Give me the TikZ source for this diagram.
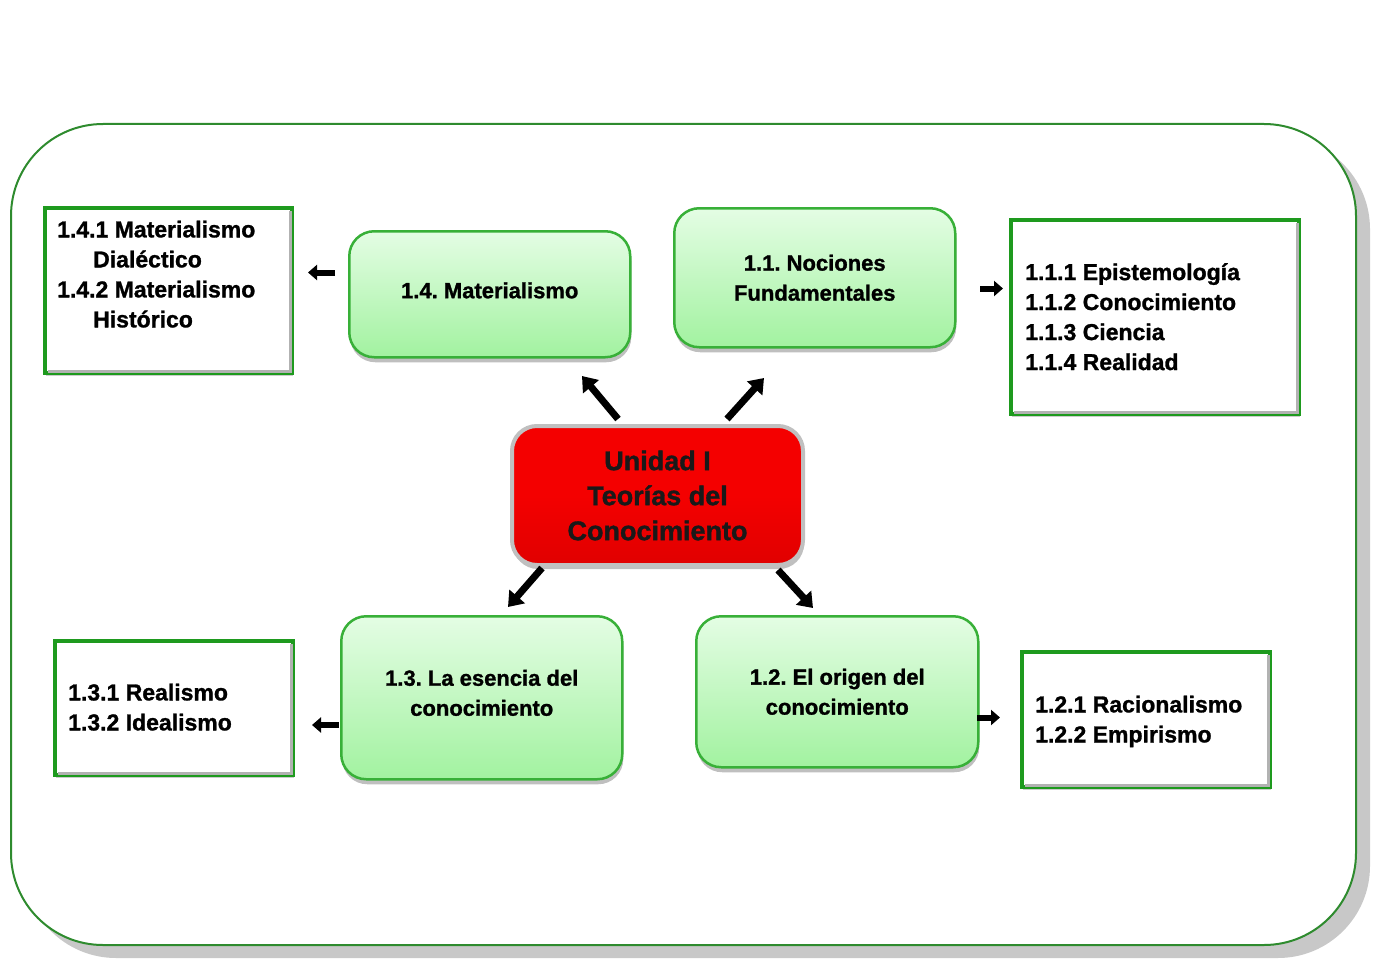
\documentclass[tikz,border=0pt]{standalone}
\usepackage{fontspec}
\setmainfont{Liberation Sans}[BoldFeatures={FakeBold=1.2}]
\usetikzlibrary{arrows.meta,shadows,calc}
\definecolor{gtop}{HTML}{E4FDE4}
\definecolor{gbot}{HTML}{A2F2A0}
\definecolor{gline}{HTML}{38B038}
\definecolor{wline}{HTML}{1E9A1E}
\definecolor{frame}{HTML}{2E8B2E}
\definecolor{shad}{HTML}{C8C8C8}
\definecolor{redf}{HTML}{F40000}
\definecolor{redl}{HTML}{C0C0C0}
\tikzset{
  gbox/.style={draw=gline, line width=2.5pt, rounded corners=25pt, top color=gtop, bottom color=gbot,
    font=\bfseries\fontsize{22}{30}\selectfont, align=center, anchor=north west, inner sep=0pt,
    drop shadow={shadow xshift=1pt, shadow yshift=-5pt, fill=black, opacity=.25}},
  wbox/.style={draw=wline, line width=4pt, fill=white, anchor=north west, inner sep=0pt,
    drop shadow={shadow xshift=1pt, shadow yshift=-3pt, fill=black, opacity=.2}},
  bevel/.style={draw=black!30, line width=3pt},
  wtxt/.style={font=\bfseries\fontsize{23}{30}\selectfont, inner sep=0pt, align=left, anchor=north west},
  rbox/.style={draw=redl, line width=4pt, rounded corners=25pt, top color=redf, bottom color=red!88!black,
    middle color=redf, font=\bfseries\fontsize{27}{35}\selectfont, text=black!90, align=center,
    anchor=north west, inner sep=0pt,
    drop shadow={shadow xshift=1pt, shadow yshift=-4pt, fill=black, opacity=.25}},
  arrD/.style={line width=7pt, -{Triangle[length=14pt,width=20pt]}},
  arrH/.style={line width=6pt, -{Triangle[length=9pt,width=15pt]}}
}
\begin{document}
\frenchspacing
\begin{tikzpicture}[x=1pt,y=-1pt]
\useasboundingbox (0,0) rectangle (1373,963);
% outer frame
\fill[shad, rounded corners=92pt] (24,137) rectangle (1370,958);
\draw[frame, line width=2pt, fill=white, rounded corners=92pt] (11,124) rectangle (1356,945);

% green boxes
\node[gbox, minimum width=281pt, minimum height=126pt] (m14) at (348,230) {1.4. Materialismo\rule[-8pt]{0pt}{8pt}};
\node[gbox, minimum width=281pt, minimum height=139pt] (m11) at (673,207) {1.1. Nociones\\Fundamentales};
\node[gbox, minimum width=281pt, minimum height=163pt] (m13) at (340,615) {1.3. La esencia del\\conocimiento\rule[-10pt]{0pt}{10pt}};
\node[gbox, minimum width=282pt, minimum height=151pt] (m12) at (695,615) {1.2. El origen del\\conocimiento};

% center
\node[rbox, minimum width=291pt, minimum height=139pt] (c) at (510,424) {Unidad I\\Teorías del\\Conocimiento};

% white boxes
\node[wbox, minimum width=247pt, minimum height=165pt] (b14) at (43,206) {};
\node[wbox, minimum width=288pt, minimum height=194pt] (b11) at (1009,218) {};
\node[wbox, minimum width=238pt, minimum height=134pt] (b13) at (53,639) {};
\node[wbox, minimum width=248pt, minimum height=135pt] (b12) at (1020,650) {};
\foreach \b in {b14,b11,b13,b12}{
  \draw[bevel] ($(\b.north east)+(-4,5)$) -- ($(\b.south east)+(-4,-4)$) -- ($(\b.south west)+(5,-4)$);
}

\node[wtxt] (t14) at (57,220.5) {1.4.1 Materialismo\\\hspace*{36pt}Dialéctico\\1.4.2 Materialismo\\\hspace*{36pt}Histórico};
\node[wtxt] (t11) at (1025,263) {1.1.1 Epistemología\\1.1.2 Conocimiento\\1.1.3 Ciencia\\1.1.4 Realidad};
\node[wtxt] (t13) at (68,683.5) {1.3.1 Realismo\\1.3.2 Idealismo};
\node[wtxt] (t12) at (1035,695.5) {1.2.1 Racionalismo\\1.2.2 Empirismo};

% arrow end points
\coordinate (d1s) at (618,419); \coordinate (d1e) at (582,376);
\coordinate (d2s) at (727,419); \coordinate (d2e) at (764,378);
\coordinate (d3s) at (542,568); \coordinate (d3e) at (508,607);
\coordinate (d4s) at (778,570); \coordinate (d4e) at (813,608);
\coordinate (h1s) at (335,272.5); \coordinate (h1e) at (308,272.5);
\coordinate (h2s) at (980,288.5); \coordinate (h2e) at (1003,288.5);
\coordinate (h3s) at (339,725); \coordinate (h3e) at (312,725);
\coordinate (h4s) at (977,717.5); \coordinate (h4e) at (1000,717.5);

\draw[arrD] (d1s) -- (d1e);
\draw[arrD] (d2s) -- (d2e);
\draw[arrD] (d3s) -- (d3e);
\draw[arrD] (d4s) -- (d4e);
\draw[arrH] (h1s) -- (h1e);
\draw[arrH] (h2s) -- (h2e);
\draw[arrH] (h3s) -- (h3e);
\draw[arrH] (h4s) -- (h4e);
\end{tikzpicture}
\end{document}
